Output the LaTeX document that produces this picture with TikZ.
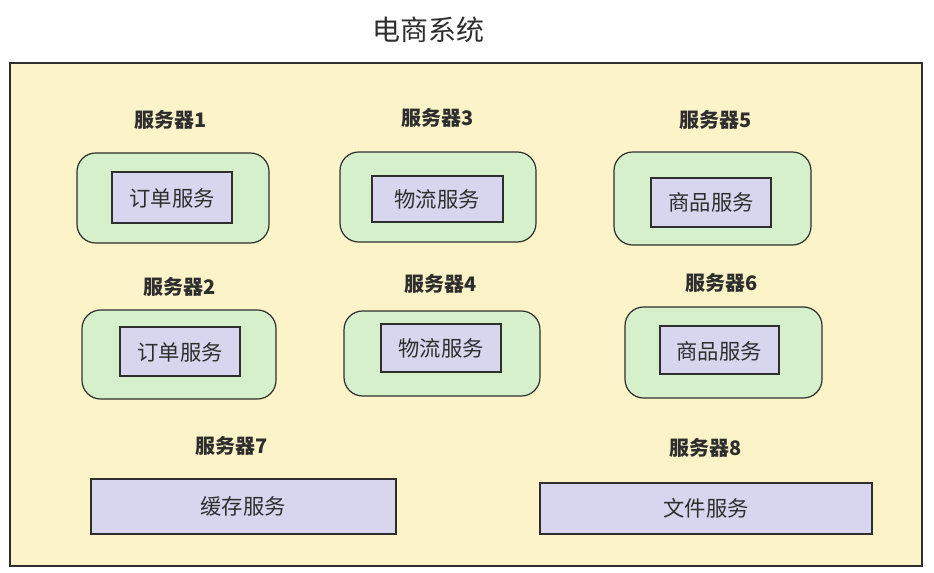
\documentclass[tikz,border=0pt]{standalone}
\usepackage{fontspec}
\newfontfamily\cjk{Noto Sans CJK SC}
\usetikzlibrary{calc}
\definecolor{sysyellow}{HTML}{FDF3C9}
\definecolor{srvgreen}{HTML}{D6F0CB}
\definecolor{svcpurple}{HTML}{D8D6EE}
\definecolor{inkgray}{HTML}{2E2E2E}
\tikzset{
	sysbox/.style={draw=inkgray, fill=sysyellow, line width=0.9pt},
	srvbox/.style={draw=inkgray, fill=srvgreen, line width=0.9pt, rounded corners=14pt},
	svcbox/.style={draw=inkgray, fill=svcpurple, line width=0.9pt},
	txt/.style={font=\cjk\fontsize{16}{18}\selectfont, text=inkgray, inner sep=0pt},
	lbl/.style={font=\cjk\bfseries\fontsize{15}{17}\selectfont, text=inkgray, inner sep=0pt},
}

\begin{document}
\begin{tikzpicture}[x=0.75pt, y=-0.75pt]
		%%%%% START %%%%%
		\useasboundingbox (0, 0) rectangle (934, 573);
		
		\node[txt, font=\cjk\fontsize{21}{24}\selectfont] (title) at (428, 30) {电商系统};
		\draw[sysbox] (10, 63) rectangle (922, 566);
		
		% row 1
		\node[lbl] (srv1) at (171, 120) {服务器1};
		\draw[srvbox] (77, 153) rectangle (269, 243);
		\draw[svcbox] (112, 172) rectangle (232, 223);
		\node[txt] (order1) at (172, 198) {订单服务};
		
		\node[lbl] (srv3) at (438, 118) {服务器3};
		\draw[srvbox] (340, 152) rectangle (536, 242);
		\draw[svcbox] (372, 176) rectangle (503, 222);
		\node[txt] (ship3) at (437, 199) {物流服务};
		
		\node[lbl] (srv5) at (716, 120) {服务器5};
		\draw[srvbox] (614, 152) rectangle (811, 245);
		\draw[svcbox] (651, 178) rectangle (771, 227);
		\node[txt] (goods5) at (711, 202) {商品服务};
		
		% row 2
		\node[lbl] (srv2) at (180, 287) {服务器2};
		\draw[srvbox] (82, 310) rectangle (276, 399);
		\draw[svcbox] (120, 327) rectangle (240, 376);
		\node[txt] (order2) at (180, 352) {订单服务};
		
		\node[lbl] (srv4) at (441, 284) {服务器4};
		\draw[srvbox] (344, 311) rectangle (540, 396);
		\draw[svcbox] (381, 324) rectangle (501, 372);
		\node[txt] (ship4) at (441, 348) {物流服务};
		
		\node[lbl] (srv6) at (722, 283) {服务器6};
		\draw[srvbox] (625, 307) rectangle (822, 398);
		\draw[svcbox] (660, 326) rectangle (779, 374);
		\node[txt] (goods6) at (719, 351) {商品服务};
		
		% row 3
		\node[lbl] (srv7) at (232, 446) {服务器7};
		\draw[svcbox] (91, 479) rectangle (396, 534);
		\node[txt] (cache7) at (243, 506) {缓存服务};
		
		\node[lbl] (srv8) at (706, 448) {服务器8};
		\draw[svcbox] (540, 483) rectangle (872, 534);
		\node[txt] (file8) at (706, 508) {文件服务};
		%%%%% END %%%%%
\end{tikzpicture}
\end{document}
